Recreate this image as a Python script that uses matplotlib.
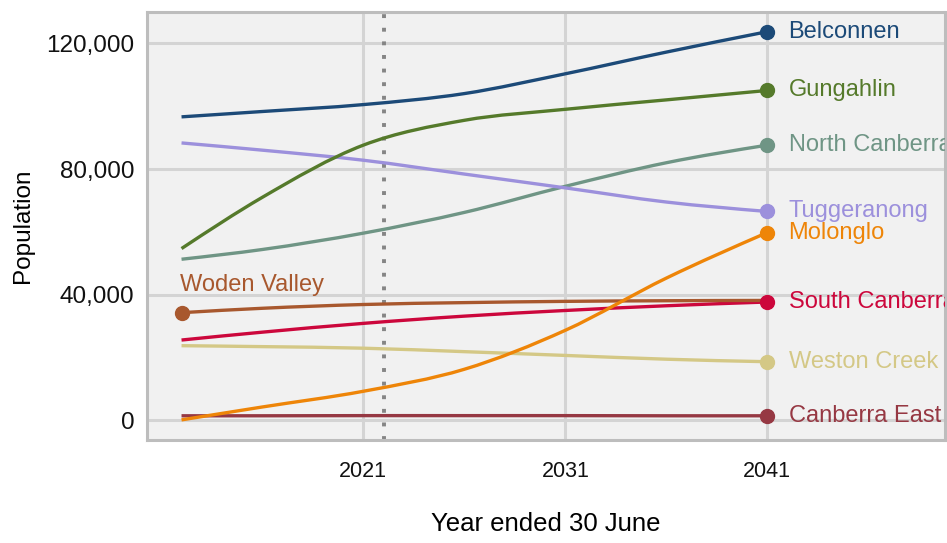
import numpy as np
import matplotlib
matplotlib.use("Agg")
import matplotlib.pyplot as plt
from matplotlib.path import Path
from matplotlib.patches import PathPatch
from matplotlib.ticker import FuncFormatter

plt.rcParams["font.family"] = ["Liberation Sans", "DejaVu Sans"]

years = [2012, 2016, 2021, 2026, 2031, 2036, 2041]

belconnen = [96600, 98300, 100500, 104000, 110300, 117200, 123700]
gungahlin = [54700, 71000, 87600, 95500, 99000, 102000, 105000]
north_canberra = [51300, 54400, 59600, 66200, 74500, 82000, 87600]
tuggeranong = [88300, 86000, 82800, 78400, 74000, 69500, 66500]
molonglo = [200, 4300, 9300, 16300, 28700, 45300, 59800]
woden_valley = [34300, 35700, 36900, 37500, 37900, 38100, 38200]
south_canberra = [25600, 28100, 30900, 33200, 35000, 36500, 37700]
weston_creek = [23800, 23500, 23000, 21900, 20700, 19500, 18700]
canberra_east = [1500, 1500, 1550, 1550, 1550, 1500, 1500]

names = ["Canberra East", "Weston Creek", "South Canberra", "Woden Valley",
         "North Canberra", "Tuggeranong", "Gungahlin", "Belconnen", "Molonglo"]
series = [canberra_east, weston_creek, south_canberra, woden_valley,
          north_canberra, tuggeranong, gungahlin, belconnen, molonglo]
colors = ["#963843", "#d4c886", "#cc073c", "#a8582e",
          "#6f9585", "#9c90dc", "#557a2b", "#1c4a78", "#ee8508"]

current_year = 2022


def smooth_path(x, y):
    # cubic through the points (central-difference tangents), as bezier segments
    x = np.asarray(x, float)
    y = np.asarray(y, float)
    h = np.diff(x)
    s = np.diff(y) / h
    m = np.zeros(len(x))
    for i in range(1, len(x) - 1):
        m[i] = (s[i - 1] * h[i] + s[i] * h[i - 1]) / (h[i - 1] + h[i])
    m[0] = (3 * s[0] - m[1]) / 2
    m[-1] = (3 * s[-1] - m[-2]) / 2
    verts = [(x[0], y[0])]
    codes = [Path.MOVETO]
    for i in range(len(x) - 1):
        d = h[i] / 3
        verts += [(x[i] + d, y[i] + m[i] * d), (x[i + 1] - d, y[i + 1] - m[i + 1] * d), (x[i + 1], y[i + 1])]
        codes += [Path.CURVE4] * 3
    return Path(verts, codes)


fig = plt.figure(figsize=(9.47, 5.43), dpi=100)
ax = fig.add_axes([0.155, 0.19, 0.843, 0.787])
ax.set_facecolor("#f1f1f1")

ax.set_xlim(2010.28, 2049.8)
ax.set_ylim(-6150, 129800)

ax.set_xticks([2021, 2031, 2041])
ax.set_yticks([0, 40000, 80000, 120000])
ax.yaxis.set_major_formatter(FuncFormatter(lambda v, p: f"{int(v):,}"))
ax.tick_params(axis="x", length=0, pad=15, labelsize=15.5, labelcolor="#111111")
ax.tick_params(axis="y", length=0, pad=9, labelsize=17.5, labelcolor="#111111")
ax.grid(True, color="#d4d4d4", linewidth=2.2)
ax.set_axisbelow(True)
for sp in ax.spines.values():
    sp.set_color("#bdbdbd")
    sp.set_linewidth(2.2)

ax.axvline(current_year, color="#858585", linewidth=2.8, linestyle=(0, (1, 2.5)), zorder=2)

for name, vals, col in zip(names, series, colors):
    ax.add_patch(PathPatch(smooth_path(years, vals), fill=False, edgecolor=col,
                           linewidth=2.4, capstyle="butt", zorder=3))
    if name == "Woden Valley":
        ax.plot(years[0], vals[0], "o", color=col, markersize=10, zorder=4)
        ax.annotate(name, (years[0], vals[0]), xytext=(-1, 20), textcoords="offset points",
                    ha="left", va="center", color=col, fontsize=17)
    else:
        ax.plot(years[-1], vals[-1], "o", color=col, markersize=10, zorder=4)
        ax.text(years[-1] + 1.05, vals[-1], name, ha="left", va="center",
                color=col, fontsize=17, clip_on=True)

ax.set_ylabel("Population", fontsize=17.5, labelpad=9)
ax.set_xlabel("Year ended 30 June", fontsize=18.5, labelpad=22)

fig.savefig("out.png", dpi=100)
